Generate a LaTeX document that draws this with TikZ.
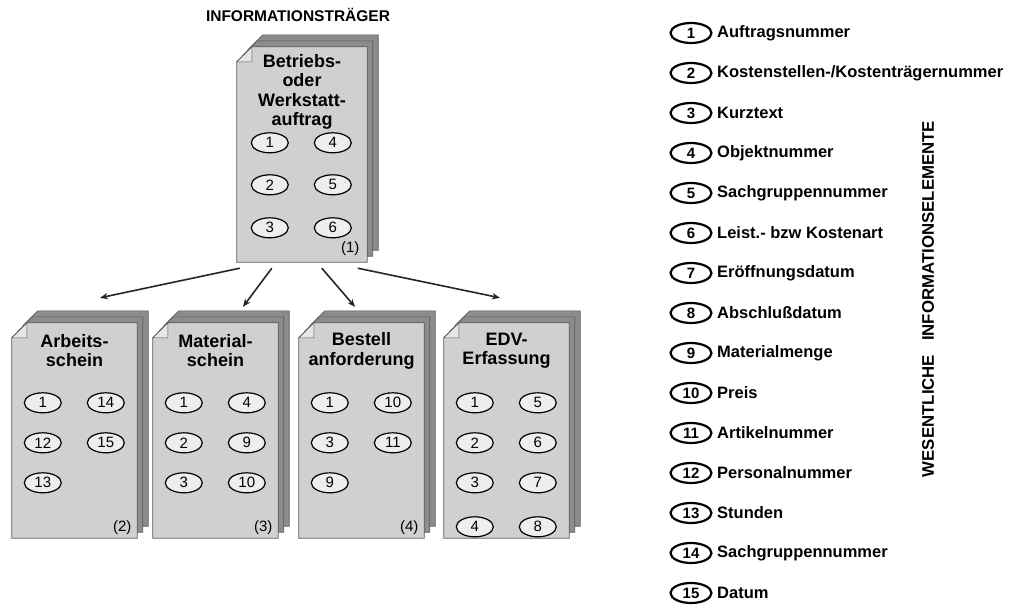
\documentclass[tikz,border=0pt]{standalone}
\usepackage{fontspec}
\setmainfont{Liberation Sans}
\usetikzlibrary{shapes.geometric,arrows.meta,calc}
\definecolor{frontgray}{HTML}{D0D0D0}
\definecolor{backgray}{HTML}{8C8C8C}
\definecolor{flapgray}{HTML}{E6E6E6}
\definecolor{edgegray}{HTML}{5A5A5A}
\definecolor{ovalfill}{HTML}{EEEEEE}
\newcommand\pageshape[4]{%
  \draw[#4] ($(#1.north west)+(#2,#3+15)$) -- ($(#1.north west)+(#2+15,#3)$) --
    ($(#1.north east)+(#2,#3)$) -- ($(#1.south east)+(#2,#3)$) --
    ($(#1.south west)+(#2,#3)$) -- cycle;}
\newcommand\docshape[1]{%
  \pageshape{#1}{11}{-12}{backpage}%
  \pageshape{#1}{5.5}{-6}{backpage}%
  \pageshape{#1}{0}{0}{frontpage}%
  \draw[flap] ($(#1.north west)+(0,15)$) -- ($(#1.north west)+(15,15)$) -- ($(#1.north west)+(15,0)$) -- cycle;}
\begin{document}
\begin{tikzpicture}[x=1pt,y=-1pt,
  docframe/.style={rectangle,inner sep=0pt,minimum width=125pt,minimum height=215pt},
  backpage/.style={fill=backgray,draw=edgegray,line width=0.6pt},
  frontpage/.style={fill=frontgray,draw=edgegray,line width=0.8pt},
  flap/.style={fill=flapgray,draw=edgegray,line width=0.6pt},
  doctitle/.style={align=center,font=\bfseries\fontsize{18}{19.5}\selectfont,inner sep=0pt},
  oval/.style={ellipse,draw=black,line width=1.2pt,fill=ovalfill,minimum width=37pt,minimum height=20pt,inner sep=0pt,font=\fontsize{15}{17}\selectfont},
  docno/.style={font=\fontsize{15}{17}\selectfont,inner sep=0pt},
  legoval/.style={ellipse,draw=black,line width=2.2pt,fill=white,minimum width=41pt,minimum height=20pt,inner sep=0pt,font=\bfseries\fontsize{15}{17}\selectfont},
  legtext/.style={anchor=west,inner sep=0pt,font=\bfseries\fontsize{16.5}{18}\selectfont},
  conn/.style={line width=1.6pt,draw=black!85,-{Stealth[length=8pt,width=6.5pt]}}]
\useasboundingbox[fill=white] (0,0) rectangle (1016,608);

% title
\node[font=\bfseries\fontsize{15.5}{17}\selectfont,inner sep=0pt] (title) at (298,15) {INFORMATIONSTRÄGER};

% document frames
\node[docframe,minimum width=130pt] (top) at (302,154.5) {};
\node[docframe] (d1) at (74.5,430.5) {};
\node[docframe] (d2) at (215.5,430.5) {};
\node[docframe] (d3) at (361.5,430.5) {};
\node[docframe] (d4) at (506.5,430.5) {};

\docshape{top}
\docshape{d1}
\docshape{d2}
\docshape{d3}
\docshape{d4}

% top document
\node[doctitle] (ttop) at ($(top.north)+(0,45)$) {Betriebs-\\oder\\Werkstatt-\\auftrag};
\node[oval] (t1) at ($(top.north west)+(33,96)$) {1};
\node[oval] (t4) at ($(top.north west)+(96,96)$) {4};
\node[oval] (t2) at ($(top.north west)+(33,138)$) {2};
\node[oval] (t5) at ($(top.north west)+(96,138)$) {5};
\node[oval] (t3) at ($(top.north west)+(33,181)$) {3};
\node[oval] (t6) at ($(top.north west)+(96,181)$) {6};
\node[docno] (ntop) at ($(top.south east)+(-17,-14)$) {(1)};

% document 1
\node[doctitle] (td1) at ($(d1.north)+(0,28)$) {Arbeits-\\schein};
\node[oval] (a1) at ($(d1.north west)+(31,80)$) {1};
\node[oval] (a14) at ($(d1.north west)+(94,80)$) {14};
\node[oval] (a12) at ($(d1.north west)+(31,120)$) {12};
\node[oval] (a15) at ($(d1.north west)+(94,120)$) {15};
\node[oval] (a13) at ($(d1.north west)+(31,160)$) {13};
\node[docno] (nd1) at ($(d1.south east)+(-15,-11)$) {(2)};

% document 2
\node[doctitle] (td2) at ($(d2.north)+(0,28)$) {Material-\\schein};
\node[oval] (m1) at ($(d2.north west)+(31,80)$) {1};
\node[oval] (m4) at ($(d2.north west)+(94,80)$) {4};
\node[oval] (m2) at ($(d2.north west)+(31,120)$) {2};
\node[oval] (m9) at ($(d2.north west)+(94,120)$) {9};
\node[oval] (m3) at ($(d2.north west)+(31,160)$) {3};
\node[oval] (m10) at ($(d2.north west)+(94,160)$) {10};
\node[docno] (nd2) at ($(d2.south east)+(-15,-11)$) {(3)};

% document 3
\node[doctitle] (td3) at ($(d3.north)+(0,28)$) {Bestell\\anforderung};
\node[oval] (b1) at ($(d3.north west)+(31,80)$) {1};
\node[oval] (b10) at ($(d3.north west)+(94,80)$) {10};
\node[oval] (b3) at ($(d3.north west)+(31,120)$) {3};
\node[oval] (b11) at ($(d3.north west)+(94,120)$) {11};
\node[oval] (b9) at ($(d3.north west)+(31,160)$) {9};
\node[docno] (nd3) at ($(d3.south east)+(-15,-11)$) {(4)};

% document 4
\node[doctitle] (td4) at ($(d4.north)+(0,28)$) {EDV-\\Erfassung};
\node[oval] (e1) at ($(d4.north west)+(31,80)$) {1};
\node[oval] (e5) at ($(d4.north west)+(94,80)$) {5};
\node[oval] (e2) at ($(d4.north west)+(31,120)$) {2};
\node[oval] (e6) at ($(d4.north west)+(94,120)$) {6};
\node[oval] (e3) at ($(d4.north west)+(31,160)$) {3};
\node[oval] (e7) at ($(d4.north west)+(94,160)$) {7};
\node[oval] (e4) at ($(d4.north west)+(31,204)$) {4};
\node[oval] (e8) at ($(d4.north west)+(94,204)$) {8};

% connectors
\draw[conn] ($(top.south west)+(3,6)$) -- ($(d1.north)+(25.5,-25)$);
\draw[conn] ($(top.south west)+(35,6)$) -- ($(d2.north)+(27.5,-16)$);
\draw[conn] ($(top.south west)+(85,6)$) -- ($(d3.north)+(-6.5,-16)$);
\draw[conn] ($(top.south west)+(121,6)$) -- ($(d4.north)+(-6.5,-25)$);

% legend
\foreach \n/\txt [count=\i from 0] in {
  1/{Auftragsnummer},
  2/{Kostenstellen-/Kostenträgernummer},
  3/{Kurztext},
  4/{Objektnummer},
  5/{Sachgruppennummer},
  6/{Leist.- bzw Kostenart},
  7/{Eröffnungsdatum},
  8/{Abschlußdatum},
  9/{Materialmenge},
  10/{Preis},
  11/{Artikelnummer},
  12/{Personalnummer},
  13/{Stunden},
  14/{Sachgruppennummer},
  15/{Datum}}{
  \node[legoval] (lo\n) at (691,{33+40*\i}) {\n};
  \node[legtext] (lt\n) at (717,{33+40*\i}) {\txt};
}

% vertical label
\node[rotate=90,inner sep=0pt,font=\bfseries\fontsize{16.8}{18}\selectfont] (vlabel) at (928,299) {WESENTLICHE\hspace{14pt}INFORMATIONSELEMENTE};
\end{tikzpicture}
\end{document}
